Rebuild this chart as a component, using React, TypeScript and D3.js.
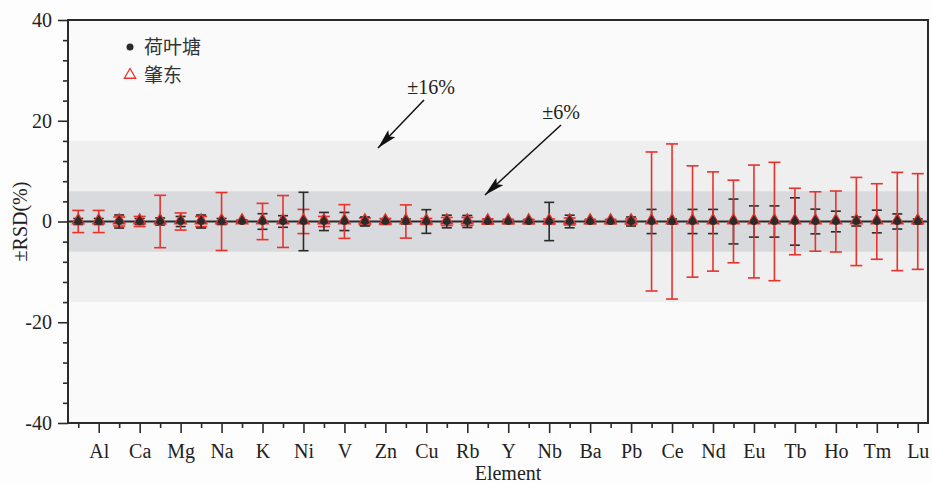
import * as d3 from "d3";
import { useEffect, useRef } from "react";

// element order on the x axis (only every second one is labelled)
const elements = [
  "Li", "Al", "Fe", "Ca", "Ti", "Mg", "Mn", "Na", "P", "K",
  "Cr", "Ni", "Co", "V", "Sc", "Zn", "Ga", "Cu", "Sr", "Rb",
  "Zr", "Y", "Cs", "Nb", "Hf", "Ba", "Th", "Pb", "La", "Ce",
  "Pr", "Nd", "Sm", "Eu", "Gd", "Tb", "Dy", "Ho", "Er", "Tm",
  "Yb", "Lu",
];

// ±RSD (%) per element
const rsdHeyetang = [
  0.6, 0.6, 1.3, 0.6, 0.7, 1.0, 1.3, 0.6, 0.3, 1.55,
  1.15, 5.8, 1.8, 1.8, 0.9, 0.4, 0.5, 2.35, 1.25, 1.2,
  0.5, 0.4, 0.4, 3.8, 1.25, 0.4, 0.4, 0.9, 2.4, 0.5,
  2.4, 2.4, 4.45, 3.1, 3.1, 4.7, 2.45, 2.05, 0.9, 2.25,
  1.5, 0.5,
];
const rsdZhaodong = [
  2.2, 2.2, 0.9, 1.0, 5.2, 1.7, 1.0, 5.75, 0.3, 3.6,
  5.15, 2.4, 1.0, 3.35, 0.7, 0.6, 3.3, 0.6, 0.8, 0.8,
  0.5, 0.4, 0.4, 0.5, 0.7, 0.4, 0.4, 0.5, 13.8, 15.4,
  11.05, 9.85, 8.2, 11.2, 11.75, 6.6, 5.9, 6.05, 8.75, 7.5,
  9.75, 9.5,
];

const seriesNames = ["荷叶塘", "肇东"];
const bands = [16, 6];
const yTicks = [-40, -20, 0, 20, 40];

export default function App() {
  const width = 932;
  const height = 483;
  const marginTop = 20;
  const marginRight = 4;
  const marginBottom = 60;
  const marginLeft = 68;

  const svgRef = useRef<SVGSVGElement>(null);

  useEffect(() => {
    const svgEl = d3.select(svgRef.current);
    svgEl.selectAll("*").remove();

    const red = "#e8322c";
    const dark = "#2b2b2b";
    const serif = "'Liberation Serif', 'Times New Roman', serif";
    const cjk = "'Liberation Serif', 'Noto Sans CJK SC', serif";

    const x = d3.scalePoint<string>()
      .domain(elements)
      .range([marginLeft, width - marginRight])
      .padding(0.5);
    const y = d3.scaleLinear([-40, 40], [height - marginBottom, marginTop]);

    // plot background
    svgEl.append("rect")
      .attr("x", marginLeft).attr("y", marginTop)
      .attr("width", width - marginRight - marginLeft)
      .attr("height", height - marginBottom - marginTop)
      .attr("fill", "#fafafa");

    // ±16 and ±6 bands
    svgEl.selectAll(".band")
      .data(bands)
      .join("rect")
      .attr("x", marginLeft)
      .attr("width", width - marginRight - marginLeft)
      .attr("y", d => y(d))
      .attr("height", d => y(-d) - y(d))
      .attr("fill", (d, i) => i === 0 ? "#efefef" : "#d9dadd");

    // zero line
    svgEl.append("line")
      .attr("x1", marginLeft).attr("x2", width - marginRight)
      .attr("y1", y(0)).attr("y2", y(0))
      .attr("stroke", dark).attr("stroke-width", 2);

    // error bars, the longer one drawn on top
    const bars = elements.flatMap((el, i) => [
      { el, v: rsdHeyetang[i], color: dark, cap: 5 },
      { el, v: rsdZhaodong[i], color: red, cap: 6 },
    ]).sort((a, b) => a.v - b.v);

    const barG = svgEl.append("g").attr("stroke-width", 1.6);
    bars.forEach(b => {
      const cx = x(b.el)!;
      const g = barG.append("g").attr("stroke", b.color);
      g.append("line").attr("x1", cx).attr("x2", cx).attr("y1", y(b.v)).attr("y2", y(-b.v));
      g.append("line").attr("x1", cx - b.cap).attr("x2", cx + b.cap).attr("y1", y(b.v)).attr("y2", y(b.v));
      g.append("line").attr("x1", cx - b.cap).attr("x2", cx + b.cap).attr("y1", y(-b.v)).attr("y2", y(-b.v));
    });

    const tri = d3.symbol(d3.symbolTriangle, 60);

    // markers (all at zero)
    svgEl.selectAll(".tri")
      .data(elements)
      .join("path")
      .attr("d", tri())
      .attr("transform", d => `translate(${x(d)},${y(0) - 1})`)
      .attr("fill", dark)
      .attr("stroke", red)
      .attr("stroke-width", 1.3);
    svgEl.selectAll(".dot")
      .data(elements)
      .join("circle")
      .attr("cx", d => x(d)!)
      .attr("cy", y(0))
      .attr("r", 3.5)
      .attr("fill", dark);

    // frame
    svgEl.append("rect")
      .attr("x", marginLeft).attr("y", marginTop)
      .attr("width", width - marginRight - marginLeft)
      .attr("height", height - marginBottom - marginTop)
      .attr("fill", "none").attr("stroke", dark).attr("stroke-width", 2);

    // y axis
    const yAxis = svgEl.append("g")
      .attr("transform", `translate(${marginLeft},0)`)
      .call(d3.axisLeft(y).tickValues(yTicks).tickSize(10).tickPadding(6).tickFormat(d => String(d)));
    svgEl.append("g")
      .attr("transform", `translate(${marginLeft},0)`)
      .call(d3.axisLeft(y).tickValues(d3.range(-40, 41, 4).filter(v => v % 20 !== 0)).tickSize(5).tickFormat(() => ""));

    // x axis
    const major = elements.filter((d, i) => i % 2 === 1);
    const minor = elements.filter((d, i) => i % 2 === 0);
    const xAxis = svgEl.append("g")
      .attr("transform", `translate(0,${height - marginBottom})`)
      .call(d3.axisBottom(x).tickValues(major).tickSize(10).tickPadding(11));
    svgEl.append("g")
      .attr("transform", `translate(0,${height - marginBottom})`)
      .call(d3.axisBottom(x).tickValues(minor).tickSize(5).tickFormat(() => ""));

    svgEl.selectAll(".domain").remove();
    svgEl.selectAll(".tick line").attr("stroke", dark).attr("stroke-width", 1.6);
    [xAxis, yAxis].forEach(a => a.selectAll("text")
      .style("font-family", serif).attr("font-size", 20).attr("fill", "#222"));

    // axis titles
    svgEl.append("text")
      .attr("x", 508).attr("y", height - 3)
      .attr("text-anchor", "middle")
      .style("font-family", serif).attr("font-size", 20).attr("fill", "#222")
      .text("Element");
    svgEl.append("text")
      .attr("transform", `translate(27,${y(0)}) rotate(-90)`)
      .attr("text-anchor", "middle")
      .style("font-family", serif).attr("font-size", 20).attr("fill", "#222")
      .text("±RSD(%)");

    // legend
    const legend = svgEl.append("g");
    legend.append("circle").attr("cx", 130).attr("cy", 47).attr("r", 3.5).attr("fill", dark);
    legend.append("path")
      .attr("d", d3.symbol(d3.symbolTriangle, 55)())
      .attr("transform", "translate(130,75)")
      .attr("fill", "white").attr("stroke", red).attr("stroke-width", 1.3);
    legend.selectAll("text")
      .data(seriesNames)
      .join("text")
      .attr("x", 144)
      .attr("y", (d, i) => 54 + i * 28)
      .style("font-family", cjk).attr("font-size", 19).attr("fill", "#333")
      .text(d => d);

    // band annotations with arrows
    const defs = svgEl.append("defs");
    defs.append("marker")
      .attr("id", "arrow")
      .attr("viewBox", "0 0 20 10")
      .attr("refX", 20).attr("refY", 5)
      .attr("markerWidth", 20).attr("markerHeight", 10)
      .attr("markerUnits", "userSpaceOnUse")
      .attr("orient", "auto")
      .append("path")
      .attr("d", "M0,0 L20,5 L0,10 L4,5 Z")
      .attr("fill", "#111");

    const notes = [
      { label: "±16%", tx: 431, ty: 94, from: [424, 100], to: [378, 148] },
      { label: "±6%", tx: 561, ty: 119, from: [561, 125], to: [485, 195] },
    ];
    notes.forEach(n => {
      svgEl.append("text")
        .attr("x", n.tx).attr("y", n.ty)
        .attr("text-anchor", "middle")
        .style("font-family", serif).attr("font-size", 20).attr("fill", "#222")
        .text(n.label);
      svgEl.append("line")
        .attr("x1", n.from[0]).attr("y1", n.from[1])
        .attr("x2", n.to[0]).attr("y2", n.to[1])
        .attr("stroke", "#111").attr("stroke-width", 1.5)
        .attr("marker-end", "url(#arrow)");
    });
  }, []);

  return (
    <div style={{ position: "absolute", left: 0, top: 0, background: "#fdfdfd" }}>
      <svg ref={svgRef} width={width} height={height} xmlns="http://www.w3.org/2000/svg"></svg>
    </div>
  );
}
